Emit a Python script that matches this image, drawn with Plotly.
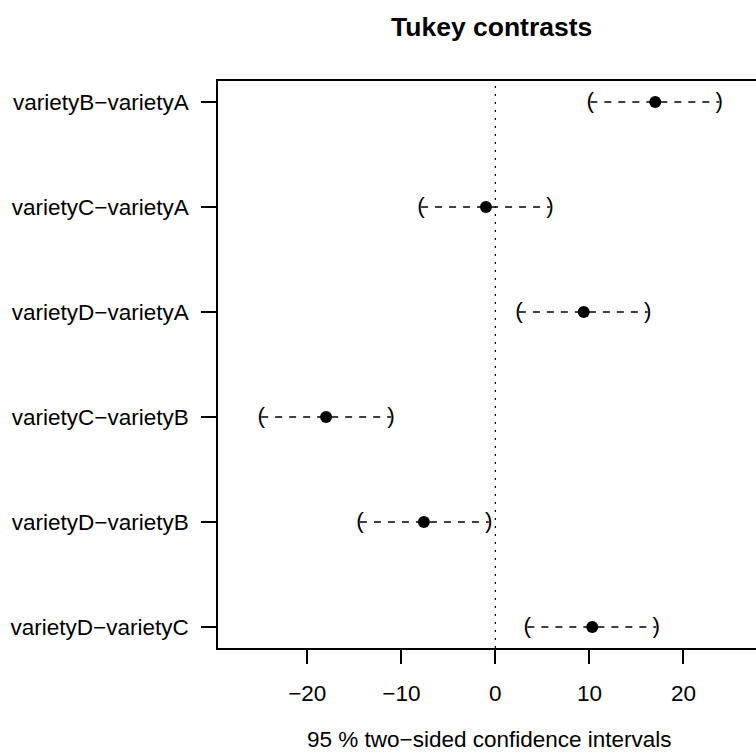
import plotly.graph_objects as go

# ---- data ----
contrasts = ["varietyB−varietyA", "varietyC−varietyA", "varietyD−varietyA",
             "varietyC−varietyB", "varietyD−varietyB", "varietyD−varietyC"]
estimate = [17.0, -1.0, 9.4, -18.0, -7.6, 10.3]
lower = [10.1, -7.9, 2.5, -24.9, -14.4, 3.4]
upper = [23.8, 5.8, 16.2, -11.1, -0.7, 17.1]
x_tickvals = [-20, -10, 0, 10, 20]
x_ticktext = ["−20", "−10", "0", "10", "20"]
title_text = "<b>Tukey contrasts</b>"
xlabel_text = "95 % two−sided confidence intervals"

# ---- layout constants ----
W, H = 756, 754
L, R, T, B = 218, 0, 81, 106
PW, PH = W - L - R, H - T - B
FONT = "Liberation Sans, Arial, Helvetica, sans-serif"
FS = 22.5
n = len(contrasts)
pos = list(range(1, n + 1))


def px_to_paper_x(px):
    return (px - L) / PW


def px_to_paper_y(py):
    return (H - B - py) / PH


fig = go.Figure()

# dashed confidence segments
for i in range(n):
    fig.add_trace(go.Scatter(
        x=[lower[i], upper[i]], y=[pos[i], pos[i]], mode="lines",
        line=dict(color="black", width=1.3, dash="7px,7px"),
        showlegend=False, hoverinfo="skip"))

# parentheses at interval ends
fig.add_trace(go.Scatter(
    x=lower, y=pos, mode="text", text=["("] * n, textposition="middle center",
    textfont=dict(size=FS, color="black", family=FONT),
    showlegend=False, hoverinfo="skip"))
fig.add_trace(go.Scatter(
    x=upper, y=pos, mode="text", text=[")"] * n, textposition="middle center",
    textfont=dict(size=FS, color="black", family=FONT),
    showlegend=False, hoverinfo="skip"))

# point estimates
fig.add_trace(go.Scatter(
    x=estimate, y=pos, mode="markers",
    marker=dict(size=12, color="black", line=dict(width=0)),
    showlegend=False, hoverinfo="skip"))

# dotted zero line
fig.add_shape(type="line", x0=0, x1=0, xref="x", y0=0, y1=1, yref="paper",
              line=dict(color="black", width=1.2, dash="2px,6px"), layer="below")

fig.add_annotation(text=title_text, x=px_to_paper_x(491.5), y=px_to_paper_y(27),
                   xref="paper", yref="paper", showarrow=False,
                   xanchor="center", yanchor="middle",
                   font=dict(size=26.5, color="black", family=FONT))
fig.add_annotation(text=xlabel_text, x=px_to_paper_x(489.7), y=px_to_paper_y(753),
                   xref="paper", yref="paper", showarrow=False,
                   xanchor="center", yanchor="bottom", borderpad=0,
                   font=dict(size=FS, color="black", family=FONT))

fig.update_layout(
    width=W, height=H,
    margin=dict(l=L, r=R, t=T, b=B, pad=0),
    paper_bgcolor="white", plot_bgcolor="white",
    font=dict(family=FONT, size=FS, color="black"),
    xaxis=dict(range=[-29.49, 27.71], tickvals=x_tickvals, ticktext=x_ticktext,
               ticks="outside", ticklen=14, tickwidth=1.5, tickcolor="black",
               showline=True, linecolor="black", linewidth=1.5, mirror=True,
               showgrid=False, zeroline=False, ticklabelstandoff=10,
               tickfont=dict(size=FS, color="black", family=FONT)),
    yaxis=dict(range=[6.2, 0.8], tickvals=pos, ticktext=contrasts,
               ticks="outside", ticklen=15, tickwidth=1.5, tickcolor="black",
               showline=True, linecolor="black", linewidth=1.5, mirror=False,
               showgrid=False, zeroline=False, ticklabelstandoff=8,
               tickfont=dict(size=FS, color="black", family=FONT)),
)

fig.write_html("out.html")
